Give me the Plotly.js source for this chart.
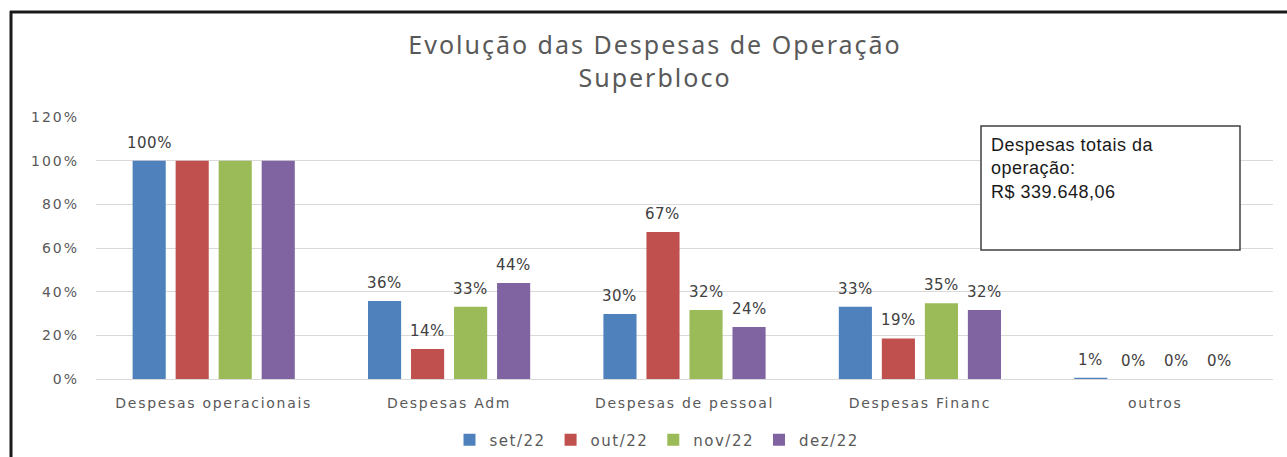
<!DOCTYPE html>
<html>
<head>
<meta charset="utf-8">
<script src="https://cdn.plot.ly/plotly-3.0.1.min.js"></script>
<style>
  html, body { margin: 0; padding: 0; background: #fff; overflow: hidden; }
  #chart { width: 1287px; height: 457px; }
  .gtitle { letter-spacing: 2px; }
  .xtick text { letter-spacing: 1.7px; }
  .ytick text { letter-spacing: 2px; }
  .legendtext { letter-spacing: 1.5px; }
  .annotation-text { letter-spacing: 0.5px; }
</style>
</head>
<body>
<div id="chart"></div>
<script>
// ---- data ----
const categories = ["Despesas operacionais", "Despesas Adm", "Despesas de pessoal", "Despesas Financ", "outros"];
const seriesNames = ["set/22", "out/22", "nov/22", "dez/22"];
const set22 = [1.00, 0.357, 0.298, 0.331, 0.006];
const out22 = [1.00, 0.137, 0.673, 0.186, 0.0];
const nov22 = [1.00, 0.331, 0.316, 0.347, 0.0];
const dez22 = [1.00, 0.440, 0.238, 0.316, 0.0];
const colors = ["#4f81bd", "#c0504d", "#9bbb59", "#8064a2"];
// in the reference only the first "100%" label is shown in the first group
const hideFirstLabel = [false, true, true, true];
const boxText = "Despesas totais da<br>operação:<br>R$ 339.648,06";
const titleText = "Evolução das Despesas de Operação<br>Superbloco";

const allSeries = [set22, out22, nov22, dez22];

const traces = allSeries.map((vals, i) => ({
  type: "bar",
  name: seriesNames[i],
  x: categories,
  y: vals,
  marker: { color: colors[i] },
  hoverinfo: "skip"
}));

const L = 96, R = 14, T = 117, B = 78;
const W = 1287, H = 457;
const pw = W - L - R, ph = H - T - B;
const px = x => (x - L) / pw;
const py = y => (H - B - y) / ph;

const BARGAP = 0.269, GROUPGAP = 0.23;
const slot = (pw / categories.length) * (1 - BARGAP) / allSeries.length;

// data labels, placed through the axes above each bar
const labelAnns = [];
allSeries.forEach((vals, i) => {
  vals.forEach((v, j) => {
    if (j === 0 && hideFirstLabel[i]) return;
    labelAnns.push({
      xref: "x", yref: "y", x: categories[j], y: v,
      xshift: (i - (allSeries.length - 1) / 2) * slot, yshift: 7,
      xanchor: "center", yanchor: "bottom", showarrow: false,
      text: Math.round(v * 100) + "%",
      font: { family: "DejaVu Sans", size: 15, color: "#404040" }
    });
  });
});

const layout = {
  width: W, height: H,
  margin: { l: L, r: R, t: T, b: B, pad: 0, autoexpand: false },
  paper_bgcolor: "#ffffff",
  plot_bgcolor: "#ffffff",
  barmode: "group",
  bargap: BARGAP,
  bargroupgap: GROUPGAP,
  title: {
    text: titleText,
    font: { family: "Noto Sans", size: 25, color: "#595959" },
    x: 655 / W, xanchor: "center",
    y: 1 - 54 / H, yanchor: "middle"
  },
  xaxis: {
    showgrid: false, showline: false, ticks: "",
    ticklabelstandoff: 14,
    tickfont: { family: "DejaVu Sans", size: 14, color: "#595959" },
    automargin: false
  },
  yaxis: {
    range: [0, 1.2], dtick: 0.2, tickformat: ".0%",
    showgrid: true, gridcolor: "#d9d9d9", gridwidth: 1,
    zeroline: true, zerolinecolor: "#d9d9d9", zerolinewidth: 1,
    showline: false, ticks: "",
    ticklabelstandoff: 16,
    tickfont: { family: "DejaVu Sans", size: 14, color: "#595959" },
    automargin: false
  },
  showlegend: true,
  legend: {
    orientation: "h",
    x: px(657), xanchor: "center",
    y: py(440), yanchor: "middle",
    font: { family: "DejaVu Sans", size: 15, color: "#595959" },
    itemwidth: 30,
    tracegroupgap: 0
  },
  shapes: [
    { type: "line", xref: "paper", yref: "paper", x0: px(10), x1: px(1290), y0: py(12), y1: py(12),
      line: { color: "#1a1a1a", width: 3 } },
    { type: "line", xref: "paper", yref: "paper", x0: px(11), x1: px(11), y0: py(11), y1: py(460),
      line: { color: "#1a1a1a", width: 3 } },
    { type: "rect", xref: "paper", yref: "paper", x0: px(981), x1: px(1240), y0: py(250), y1: py(126),
      fillcolor: "#ffffff", line: { color: "#404040", width: 1.5 }, layer: "above" }
  ],
  annotations: labelAnns.concat([
    { xref: "paper", yref: "paper", x: px(989), y: py(133), xanchor: "left", yanchor: "top",
      align: "left", showarrow: false, text: boxText,
      font: { family: "Liberation Sans", size: 18, color: "#1a1a1a" } }
  ])
};

Plotly.newPlot("chart", traces, layout, { displayModeBar: false, staticPlot: true });
</script>
</body>
</html>
